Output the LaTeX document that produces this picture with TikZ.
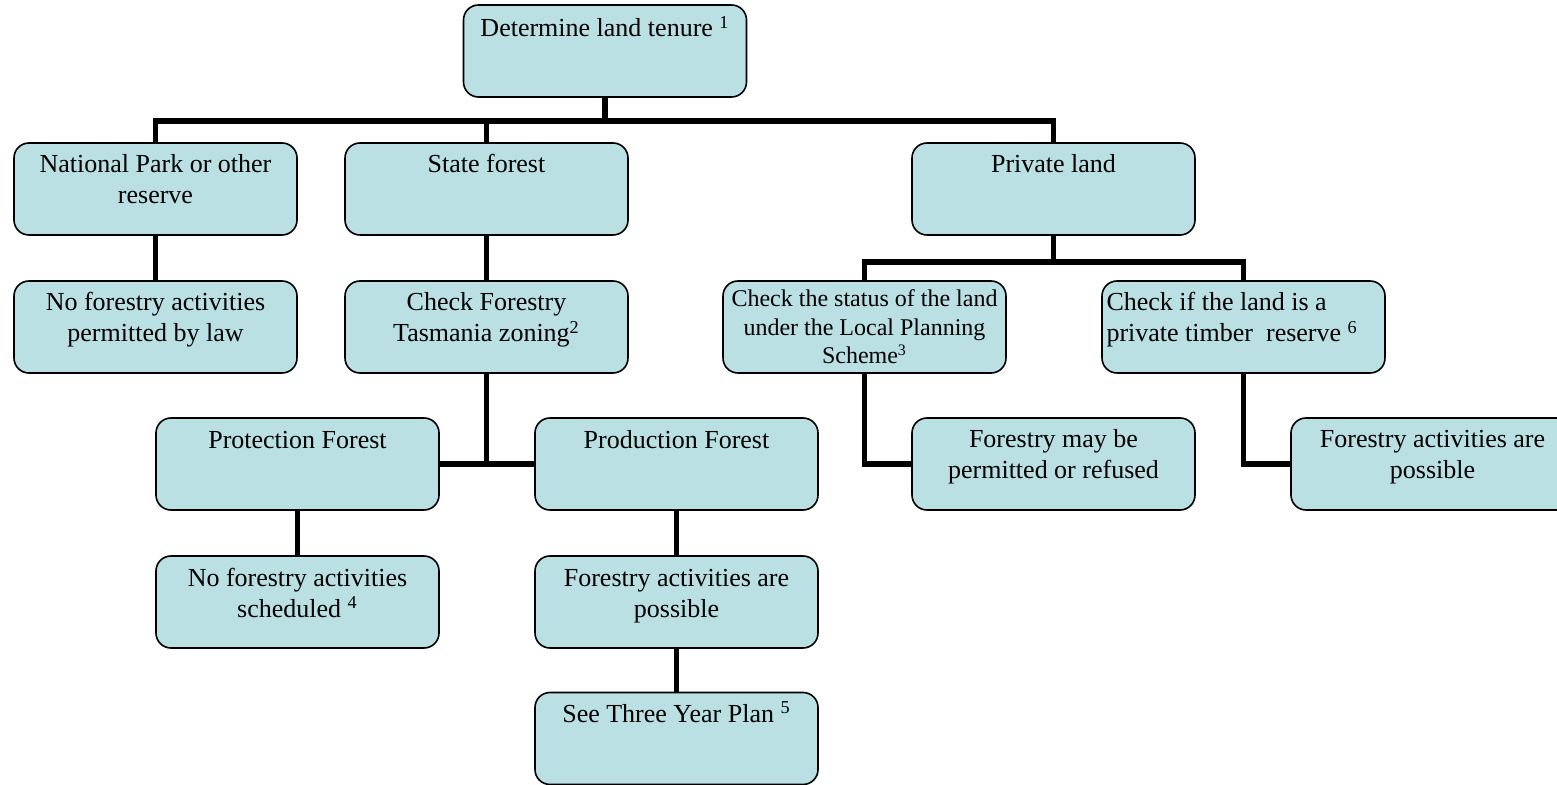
\documentclass[tikz,border=0pt]{standalone}
\usepackage{fontspec}
\setmainfont{Liberation Serif}
\definecolor{boxfill}{RGB}{186,224,228}
\newcommand{\bx}[2][15pt]{\parbox[t][46pt][t]{138pt}{\centering\rule{0pt}{#1}#2}}
\newcommand{\bxl}[2][15pt]{\parbox[t][46pt][t]{139pt}{\raggedright\rule{0pt}{#1}#2}}
\newcommand{\sps}[1]{\textsuperscript{#1}}
\tikzset{
  box/.style={draw=black, line width=0.8pt, fill=boxfill, rounded corners=7.5pt,
    inner sep=0pt, minimum width=141.5pt, minimum height=46pt,
    font=\fontsize{13}{15.5}\selectfont},
  conn/.style={draw=black, line width=2.9pt, line join=miter}
}
\begin{document}
\begin{tikzpicture}[x=0.5pt,y=-0.5pt]
\clip (0,0) rectangle (1557,785);
\fill[white] (0,0) rectangle (1557,785);
% nodes
\node[box] (top) at (605,51) {\bx[16pt]{Determine land tenure \sps{1}}};
\node[box] (np) at (155.5,189) {\bx{National Park or other\\reserve}};
\node[box] (sf) at (486.5,189) {\bx{State forest}};
\node[box] (pl) at (1053.5,189) {\bx{Private land}};
\node[box] (nfl) at (155.5,327) {\bx{No forestry activities\\permitted by law}};
\node[box] (cfz) at (486.5,327) {\bx{Check Forestry\\Tasmania zoning\sps{2}}};
\node[box,font=\fontsize{12}{14.2}\selectfont] (cs) at (864.5,327) {\bx[13pt]{Check the status of the land\\under the Local Planning\\Scheme\sps{3}}};
\node[box] (ci) at (1243.5,327) {\bxl{\hspace*{1pt}Check if the land is a\\\hspace*{1pt}private timber\ \ reserve \sps{6}}};
\node[box] (prot) at (297.5,464) {\bx[15.5pt]{Protection Forest}};
\node[box] (prod) at (676.5,464) {\bx[15.5pt]{Production Forest}};
\node[box] (fmp) at (1053.5,464) {\bx{Forestry may be\\permitted or refused}};
\node[box] (fap) at (1432.5,464) {\bx{Forestry activities are\\possible}};
\node[box] (nfs) at (297.5,602) {\bx{No forestry activities\\scheduled \sps{4}}};
\node[box] (fpos) at (676.5,602) {\bx{Forestry activities are\\possible}};
\node[box] (see) at (676.5,738.5) {\bx{See Three Year Plan \sps{5}}};
% junctions
\coordinate (j1) at (605,121);
\coordinate (j2) at (1053.5,262);
% connectors
\draw[conn] (top.south) -- (j1);
\draw[conn] (np.north) |- (j1);
\draw[conn] (sf.north) -- (sf.north |- j1);
\draw[conn] (pl.north) |- (j1);
\draw[conn] (np.south) -- (nfl.north);
\draw[conn] (sf.south) -- (cfz.north);
\draw[conn] (pl.south) -- (j2);
\draw[conn] (cs.north) |- (j2);
\draw[conn] (ci.north) |- (j2);
\draw[conn] (prot.east) -- (prod.west);
\draw[conn] (cfz.south) -- (cfz.south |- prot.east);
\draw[conn] (cs.south) |- (fmp.west);
\draw[conn] (ci.south) |- (fap.west);
\draw[conn] (prot.south) -- (nfs.north);
\draw[conn] (prod.south) -- (fpos.north);
\draw[conn] (fpos.south) -- (see.north);
\end{tikzpicture}
\end{document}
